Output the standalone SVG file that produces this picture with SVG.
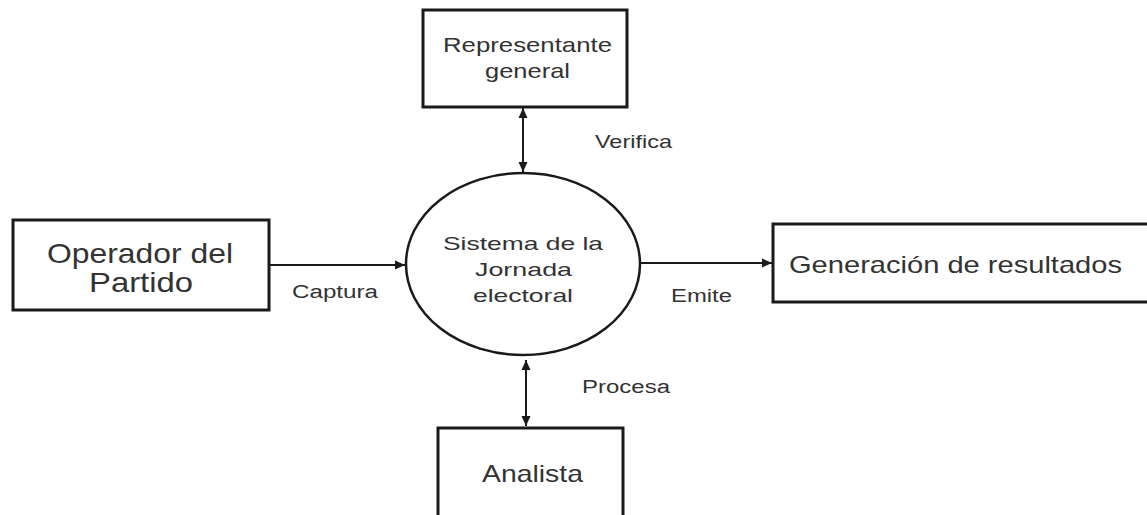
<svg xmlns="http://www.w3.org/2000/svg" width="1147" height="515" viewBox="0 0 1147 515">
<defs>
<style>
.box{fill:#fff;stroke:#1a1a1a;stroke-width:3}
.ell{fill:#fff;stroke:#1a1a1a;stroke-width:2.5}
.con{fill:none;stroke:#1a1a1a;stroke-width:2}
text{font-family:"Liberation Sans",Arial,sans-serif;fill:#333}
</style>
<marker id="ah" viewBox="0 0 10 10" refX="10" refY="5" markerWidth="10" markerHeight="10" markerUnits="userSpaceOnUse" orient="auto-start-reverse">
<path d="M0,0.5 L10,5 L0,9.5 Z" fill="#1a1a1a"/>
</marker>
</defs>
<rect width="1147" height="515" fill="#fff"/>
<g id="connectors">
<line class="con" x1="523" y1="108" x2="523" y2="172" marker-start="url(#ah)" marker-end="url(#ah)"/>
<line class="con" x1="526" y1="360" x2="526" y2="426" marker-start="url(#ah)" marker-end="url(#ah)"/>
<line class="con" x1="270" y1="265" x2="405" y2="265" marker-end="url(#ah)"/>
<line class="con" x1="640" y1="263" x2="772" y2="263" marker-end="url(#ah)"/>
<text x="595" y="148" font-size="19" textLength="77" lengthAdjust="spacingAndGlyphs">Verifica</text>
<text x="292" y="298" font-size="18" textLength="86" lengthAdjust="spacingAndGlyphs">Captura</text>
<text x="671" y="302" font-size="18" textLength="61" lengthAdjust="spacingAndGlyphs">Emite</text>
<text x="582" y="393" font-size="18" textLength="88" lengthAdjust="spacingAndGlyphs">Procesa</text>
</g>
<g id="representante">
<rect class="box" x="423" y="10" width="204" height="97"/>
<text x="443" y="52" font-size="21" textLength="169" lengthAdjust="spacingAndGlyphs">Representante</text>
<text x="485" y="78" font-size="21" textLength="85" lengthAdjust="spacingAndGlyphs">general</text>
</g>
<g id="operador">
<rect class="box" x="13" y="220" width="256" height="90"/>
<text x="47" y="263" font-size="28" textLength="186" lengthAdjust="spacingAndGlyphs">Operador del</text>
<text x="89" y="292" font-size="28" textLength="104" lengthAdjust="spacingAndGlyphs">Partido</text>
</g>
<g id="sistema">
<ellipse class="ell" cx="523" cy="264" rx="117" ry="91"/>
<text x="443" y="250" font-size="19" textLength="160" lengthAdjust="spacingAndGlyphs">Sistema de la</text>
<text x="475" y="276" font-size="19" textLength="97" lengthAdjust="spacingAndGlyphs">Jornada</text>
<text x="473" y="302" font-size="19" textLength="100" lengthAdjust="spacingAndGlyphs">electoral</text>
</g>
<g id="generacion">
<rect class="box" x="773" y="224" width="400" height="78"/>
<text x="789" y="273" font-size="24" textLength="333" lengthAdjust="spacingAndGlyphs">Generación de resultados</text>
</g>
<g id="analista">
<rect class="box" x="438" y="428" width="185" height="120"/>
<text x="482" y="482" font-size="24" textLength="101" lengthAdjust="spacingAndGlyphs">Analista</text>
</g>
</svg>
